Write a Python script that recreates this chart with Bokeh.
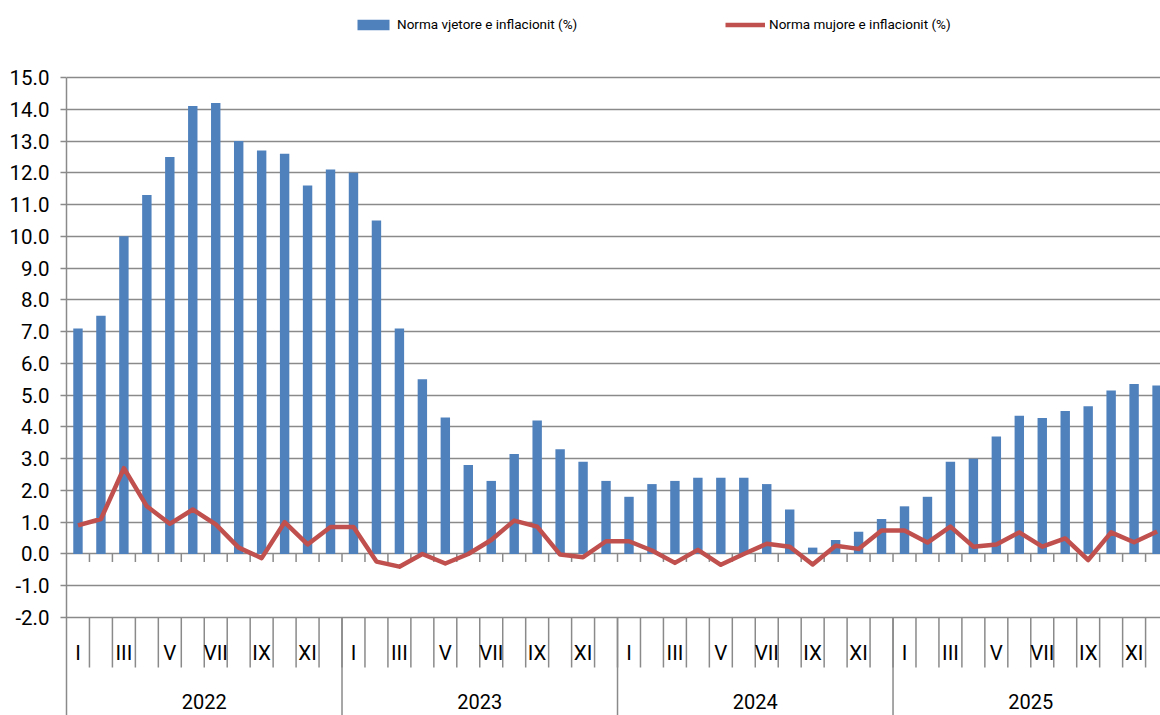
import numpy as np
from bokeh.plotting import figure
from bokeh.models import (ColumnDataSource, FixedTicker, PrintfTickFormatter,
                          Legend, LegendItem, Range1d)
from bokeh.core.properties import value
from bokeh.embed import file_html
from bokeh.resources import INLINE

# ---------------- data ----------------
years = ["2022", "2023", "2024", "2025"]
months = ["I", "II", "III", "IV", "V", "VI", "VII", "VIII", "IX", "X", "XI", "XII"]

annual = [7.1, 7.5, 10.0, 11.3, 12.5, 14.1, 14.2, 13.0, 12.7, 12.6, 11.6, 12.1,
          12.0, 10.5, 7.1, 5.5, 4.3, 2.8, 2.3, 3.15, 4.2, 3.3, 2.9, 2.3,
          1.8, 2.2, 2.3, 2.4, 2.4, 2.4, 2.2, 1.4, 0.2, 0.44, 0.7, 1.1,
          1.5, 1.8, 2.9, 3.0, 3.7, 4.35, 4.28, 4.5, 4.65, 5.15, 5.35, 5.3]

monthly = [0.9, 1.1, 2.7, 1.5, 0.95, 1.4, 0.93, 0.2, -0.13, 1.0, 0.3, 0.85,
           0.85, -0.24, -0.4, 0.0, -0.3, 0.0, 0.44, 1.05, 0.86, -0.02, -0.1, 0.4,
           0.4, 0.11, -0.28, 0.13, -0.34, 0.0, 0.32, 0.23, -0.33, 0.26, 0.16, 0.74,
           0.74, 0.36, 0.86, 0.23, 0.3, 0.68, 0.23, 0.49, -0.19, 0.68, 0.37, 0.71]

label_annual = "Norma vjetore e inflacionit (%)"
label_monthly = "Norma mujore e inflacionit (%)"

# ---------------- style ----------------
BAR = "#4F81BD"
LINE = "#C0504D"
GRID = "#8A8A8A"
FONT = "Roboto"

W, H = 1160, 715
FRAME_TOP = 77          # px of the 15.0 line
px_per_unit = 540 / 17.0
y_top = 15 + FRAME_TOP / px_per_unit
y_bot = -2 - (H - FRAME_TOP - 540) / px_per_unit
month_lab_y = -2 - 35 / px_per_unit
year_lab_y = -2 - 84 / px_per_unit
sep_bot = -2 - 50 / px_per_unit
tick0 = 8 / px_per_unit

n = len(annual)
x = np.arange(n) + 0.5
src = ColumnDataSource(dict(x=x, annual=annual, monthly=monthly))

p = figure(width=W, height=H, output_backend="svg", toolbar_location=None,
           x_range=Range1d(0, n - 0.35), y_range=Range1d(y_bot, y_top),
           x_axis_location=None, min_border_left=66, min_border_right=0,
           min_border_top=0, min_border_bottom=0)
p.outline_line_color = None
p.xgrid.visible = False

ticks = list(range(-2, 16))
p.yaxis.ticker = FixedTicker(ticks=ticks)
p.yaxis.formatter = PrintfTickFormatter(format="%.1f")
p.yaxis.bounds = (y_bot, 15)
p.yaxis.axis_line_color = GRID
p.yaxis.axis_line_width = 1.5
p.yaxis.major_tick_line_color = GRID
p.yaxis.major_tick_line_width = 1.5
p.yaxis.major_tick_in = 0
p.yaxis.major_tick_out = 6
p.yaxis.minor_tick_line_color = None
p.yaxis.major_label_text_font = FONT
p.yaxis.major_label_text_font_size = "20.5px"
p.yaxis.major_label_text_color = "#000000"
p.yaxis.major_label_standoff = 11
p.ygrid.ticker = FixedTicker(ticks=ticks)
p.ygrid.grid_line_color = GRID
p.ygrid.grid_line_width = 1.5

# category axis decorations
bounds = np.arange(1, n)
p.segment(x0=bounds, y0=0, x1=bounds, y1=-tick0, line_color=GRID, line_width=1.5)
p.segment(x0=bounds, y0=-2, x1=bounds, y1=sep_bot, line_color=GRID, line_width=1.5)
ybounds = np.arange(len(months), n, len(months))
p.segment(x0=ybounds, y0=-2, x1=ybounds, y1=y_bot, line_color=GRID, line_width=1.5)

bars = p.vbar(x="x", top="annual", width=0.41, bottom=0, source=src,
              fill_color=BAR, line_color=None)
line = p.line(x="x", y="monthly", source=src, line_color=LINE, line_width=4.5,
              line_join="round")

# month labels (every other shown) and year labels
mlab_x = [xi for i, xi in enumerate(x) if (i % 12) % 2 == 0]
mlab_t = [months[i % 12] for i in range(n) if (i % 12) % 2 == 0]
p.text(x=mlab_x, y=[month_lab_y] * len(mlab_x), text=mlab_t,
       text_align="center", text_baseline="middle",
       text_font=value(FONT), text_font_size="20.5px", text_color="#000000")
ylab_x = [12 * k + 6 for k in range(len(years))]
p.text(x=ylab_x, y=[year_lab_y] * len(years), text=years,
       text_align="center", text_baseline="middle",
       text_font=value(FONT), text_font_size="20px", text_color="#000000")

legend = Legend(items=[LegendItem(label=label_annual, renderers=[bars]),
                       LegendItem(label=label_monthly, renderers=[line])],
                location=(287, 683), orientation="horizontal",
                glyph_width=40, glyph_height=13, label_height=13,
                label_standoff=4, label_width=320, spacing=8, padding=2,
                margin=0, border_line_color=None, background_fill_alpha=0,
                label_text_font=FONT, label_text_font_size="13.5px",
                label_text_color="#000000")
p.add_layout(legend)

open("out.html", "w").write(file_html(p, INLINE))
